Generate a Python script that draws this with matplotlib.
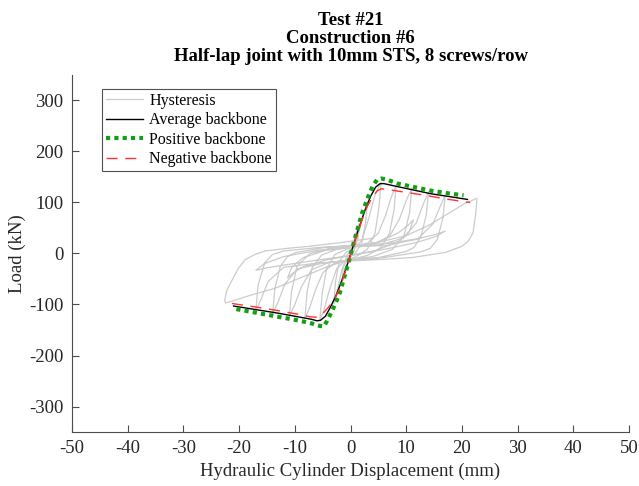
import matplotlib
matplotlib.use("Agg")
import matplotlib.pyplot as plt

plt.rcParams['font.family'] = ['Liberation Serif', 'DejaVu Serif']
plt.rcParams['axes.unicode_minus'] = False

# Hysteresis record, displacement (mm) and load (kN), one cycle per row
hyst_disp = [
    0.0, 0.7, 1.5, 1.3, 0.6, -0.2, -0.8, -1.5, -1.3, -0.6, 0.2,
    1.2, 2.2, 3.0, 2.7, 2.0, 0.8, -0.5, -1.5, -2.3, -3.0, -2.7, -2.0, -0.8, 0.5,
    2.0, 3.3, 4.4, 5.5, 5.1, 4.4, 3.0, 1.0, -1.0, -2.5, -3.8, -4.8, -5.5, -5.1, -4.3, -2.8, -0.8, 1.0,
    3.0, 5.0, 6.3, 7.3, 8.2, 7.8, 7.0, 5.5, 3.0, 0.0, -3.0, -5.0, -6.3, -7.3, -8.2, -7.8, -6.9, -5.2, -2.5, 1.0,
    4.0, 7.0, 8.8, 10.0, 11.0, 10.6, 9.6, 7.5, 4.0, 0.0, -4.0, -7.0, -8.8, -10.0, -11.0, -10.6, -9.6, -7.3, -3.5, 1.0,
    5.0, 8.5, 10.3, 11.3, 10.5, 8.5, 4.5, 0.0, -4.5, -8.5, -10.3, -11.3, -10.6, -8.5, -4.5, 0.0,
    5.0, 9.5, 11.8, 13.0, 14.0, 13.6, 12.6, 11.4, 10.0, 5.0, 0.0, -5.0, -9.5, -11.8, -13.0, -14.0, -13.6, -12.6,
    -11.3, -9.8, -4.5, 1.0,
    6.0, 12.0, 14.8, 16.0, 17.0, 16.6, 15.6, 14.3, 12.5, 6.0, 0.0, -6.0, -12.0, -14.8, -16.0, -17.0, -16.6, -15.4,
    -14.0, -12.0, -5.5, 1.0,
    7.0, 12.5, 15.5, 17.0, 15.5, 12.0, 6.0, 0.0, -6.0, -11.5, -15.0, -17.0, -15.5, -12.0, -6.0, 0.0,
    5.0, 10.0, 14.0, 17.5, 20.5, 21.8, 22.6, 22.7, 22.5, 22.0, 21.2, 20.0, 17.0, 11.0, 5.0, -1.0, -4.0, -7.5,
    -13.5, -18.0, -20.6, -22.4,
    -22.6, -22.2, -21.2, -20.2, -18.9, -17.2, -15.3, -13.0, -10.5, -7.5, -4.5, -2.0, 0.0, 4.0,
]
hyst_load = [
    0, 30, 58, 28, 4, -10, -30, -55, -25, -3, 10,
    30, 70, 102, 60, 20, 0, -10, -30, -68, -98, -55, -15, 2, 10,
    25, 70, 115, 140, 90, 40, 8, -6, -14, -30, -72, -112, -130, -80, -30, -2, 8, 14,
    20, 40, 75, 110, 134, 85, 40, 12, -4, -12, -20, -38, -72, -105, -128, -75, -28, -3, 8, 14,
    18, 34, 68, 104, 128, 80, 35, 8, -6, -12, -18, -32, -65, -100, -124, -75, -25, 0, 10, 15,
    22, 40, 55, 66, 42, 22, 6, -4, -13, -26, -38, -48, -28, -8, 6, 12,
    16, 30, 60, 95, 121, 75, 32, 12, 4, -8, -13, -19, -30, -60, -95, -119, -70, -25,
    -6, 2, 12, 16,
    15, 28, 58, 90, 114, 70, 28, 10, 3, -8, -14, -19, -27, -55, -88, -112, -62, -18,
    -2, 5, 12, 16,
    20, 30, 38, 44, 34, 22, 8, -4, -13, -22, -28, -33, -20, -6, 6, 14,
    22, 35, 55, 78, 98, 104, 108, 106, 80, 41, 25, 14, 2, -8, -12, -15, -25, -41,
    -68, -82, -91, -97,
    -92, -72, -51, -30, -12, -2, 5, 8, 11, 14, 18, 21, 24, 30,
]

# Backbone curves
pos_disp = [-20.5, -17, -13, -9.5, -7, -5.5, -4.8, -4.2, -3.2, -2.0, -1.0, 0.0,
            1.0, 2.1, 3.2, 4.0, 4.8, 5.5, 6.5, 8.5, 11.5, 14.5, 17.5, 20.3]
pos_load = [-109, -116, -124, -131, -137, -142, -143, -132, -110, -80, -42, -3,
            38, 80, 112, 133, 145, 147, 145, 137, 130, 123, 118, 114]

avg_disp = [-21, -17, -13, -9.5, -7, -6, -5.4, -4.5, -3.6, -2.5, -1.2, 0.0,
            1.2, 2.5, 3.6, 4.5, 5.3, 6.0, 8.5, 11.5, 14.5, 17.5, 21.0]
avg_load = [-103, -110, -117, -124, -129, -132, -131, -123, -105, -80, -42, -2,
            40, 82, 112, 130, 137, 137, 131, 124, 117, 112, 106]

neg_disp = [-21.3, -17, -13, -9.5, -7.3, -6.2, -5.0, -4.0, -3.0, -2.0, -1.0, 0.0,
            1.0, 2.0, 3.0, 4.0, 4.8, 5.6, 7.5, 10.5, 13.5, 16.5, 19.5, 21.5]
neg_load = [-98, -105, -112, -119, -124, -125, -118, -106, -92, -70, -38, -3,
            32, 64, 92, 112, 123, 127, 124, 119, 114, 108, 103, 100]

x_ticks = [-50, -40, -30, -20, -10, 0, 10, 20, 30, 40, 50]
y_ticks = [-300, -200, -100, 0, 100, 200, 300]

fig = plt.figure(figsize=(6.39, 4.86), dpi=100)
ax = fig.add_axes([0.1127, 0.1111, 0.8717, 0.7346])

ax.plot(hyst_disp, hyst_load, color='#cccccc', lw=0.9, label='Hysteresis')
ax.plot(avg_disp, avg_load, color='black', lw=1.0, label='Average backbone')
ax.plot(pos_disp, pos_load, color='#12a012', lw=3.0, linestyle=(0, (1, 1)),
        label='Positive backbone')
ax.plot(neg_disp, neg_load, color='#ff3333', lw=1.0, linestyle=(0, (8, 5.5)),
        label='Negative backbone')

ax.set_xlim(-50, 50)
ax.set_ylim(-350, 350)
ax.set_xticks(x_ticks)
ax.set_yticks(y_ticks)

for side in ['top', 'right']:
    ax.spines[side].set_visible(False)
for side in ['left', 'bottom']:
    ax.spines[side].set_color('#4d4d4d')
    ax.spines[side].set_linewidth(0.8)
ax.tick_params(direction='in', length=5, width=0.8, color='#4d4d4d',
               labelsize=13.5, labelcolor='#262626', pad=6)

ax.set_xlabel('Hydraulic Cylinder Displacement (mm)', fontsize=13.5, color='#262626')
ax.set_ylabel('Load (kN)', fontsize=13.5, color='#262626')
ax.yaxis.set_label_coords(-0.083, 0.5)
ax.set_title('Test #21\nConstruction #6\nHalf-lap joint with 10mm STS, 8 screws/row',
             fontsize=13.5, fontweight='bold', linespacing=1.08, pad=10)

leg = ax.legend(loc='upper left', bbox_to_anchor=(0.054, 0.961), borderaxespad=0,
                fontsize=11.5, frameon=True, fancybox=False, handlelength=2.3,
                handletextpad=0.4, labelspacing=0.22, borderpad=0.25)
leg.get_frame().set_edgecolor('#262626')
leg.get_frame().set_linewidth(0.8)

fig.savefig('out.png', dpi=100)
